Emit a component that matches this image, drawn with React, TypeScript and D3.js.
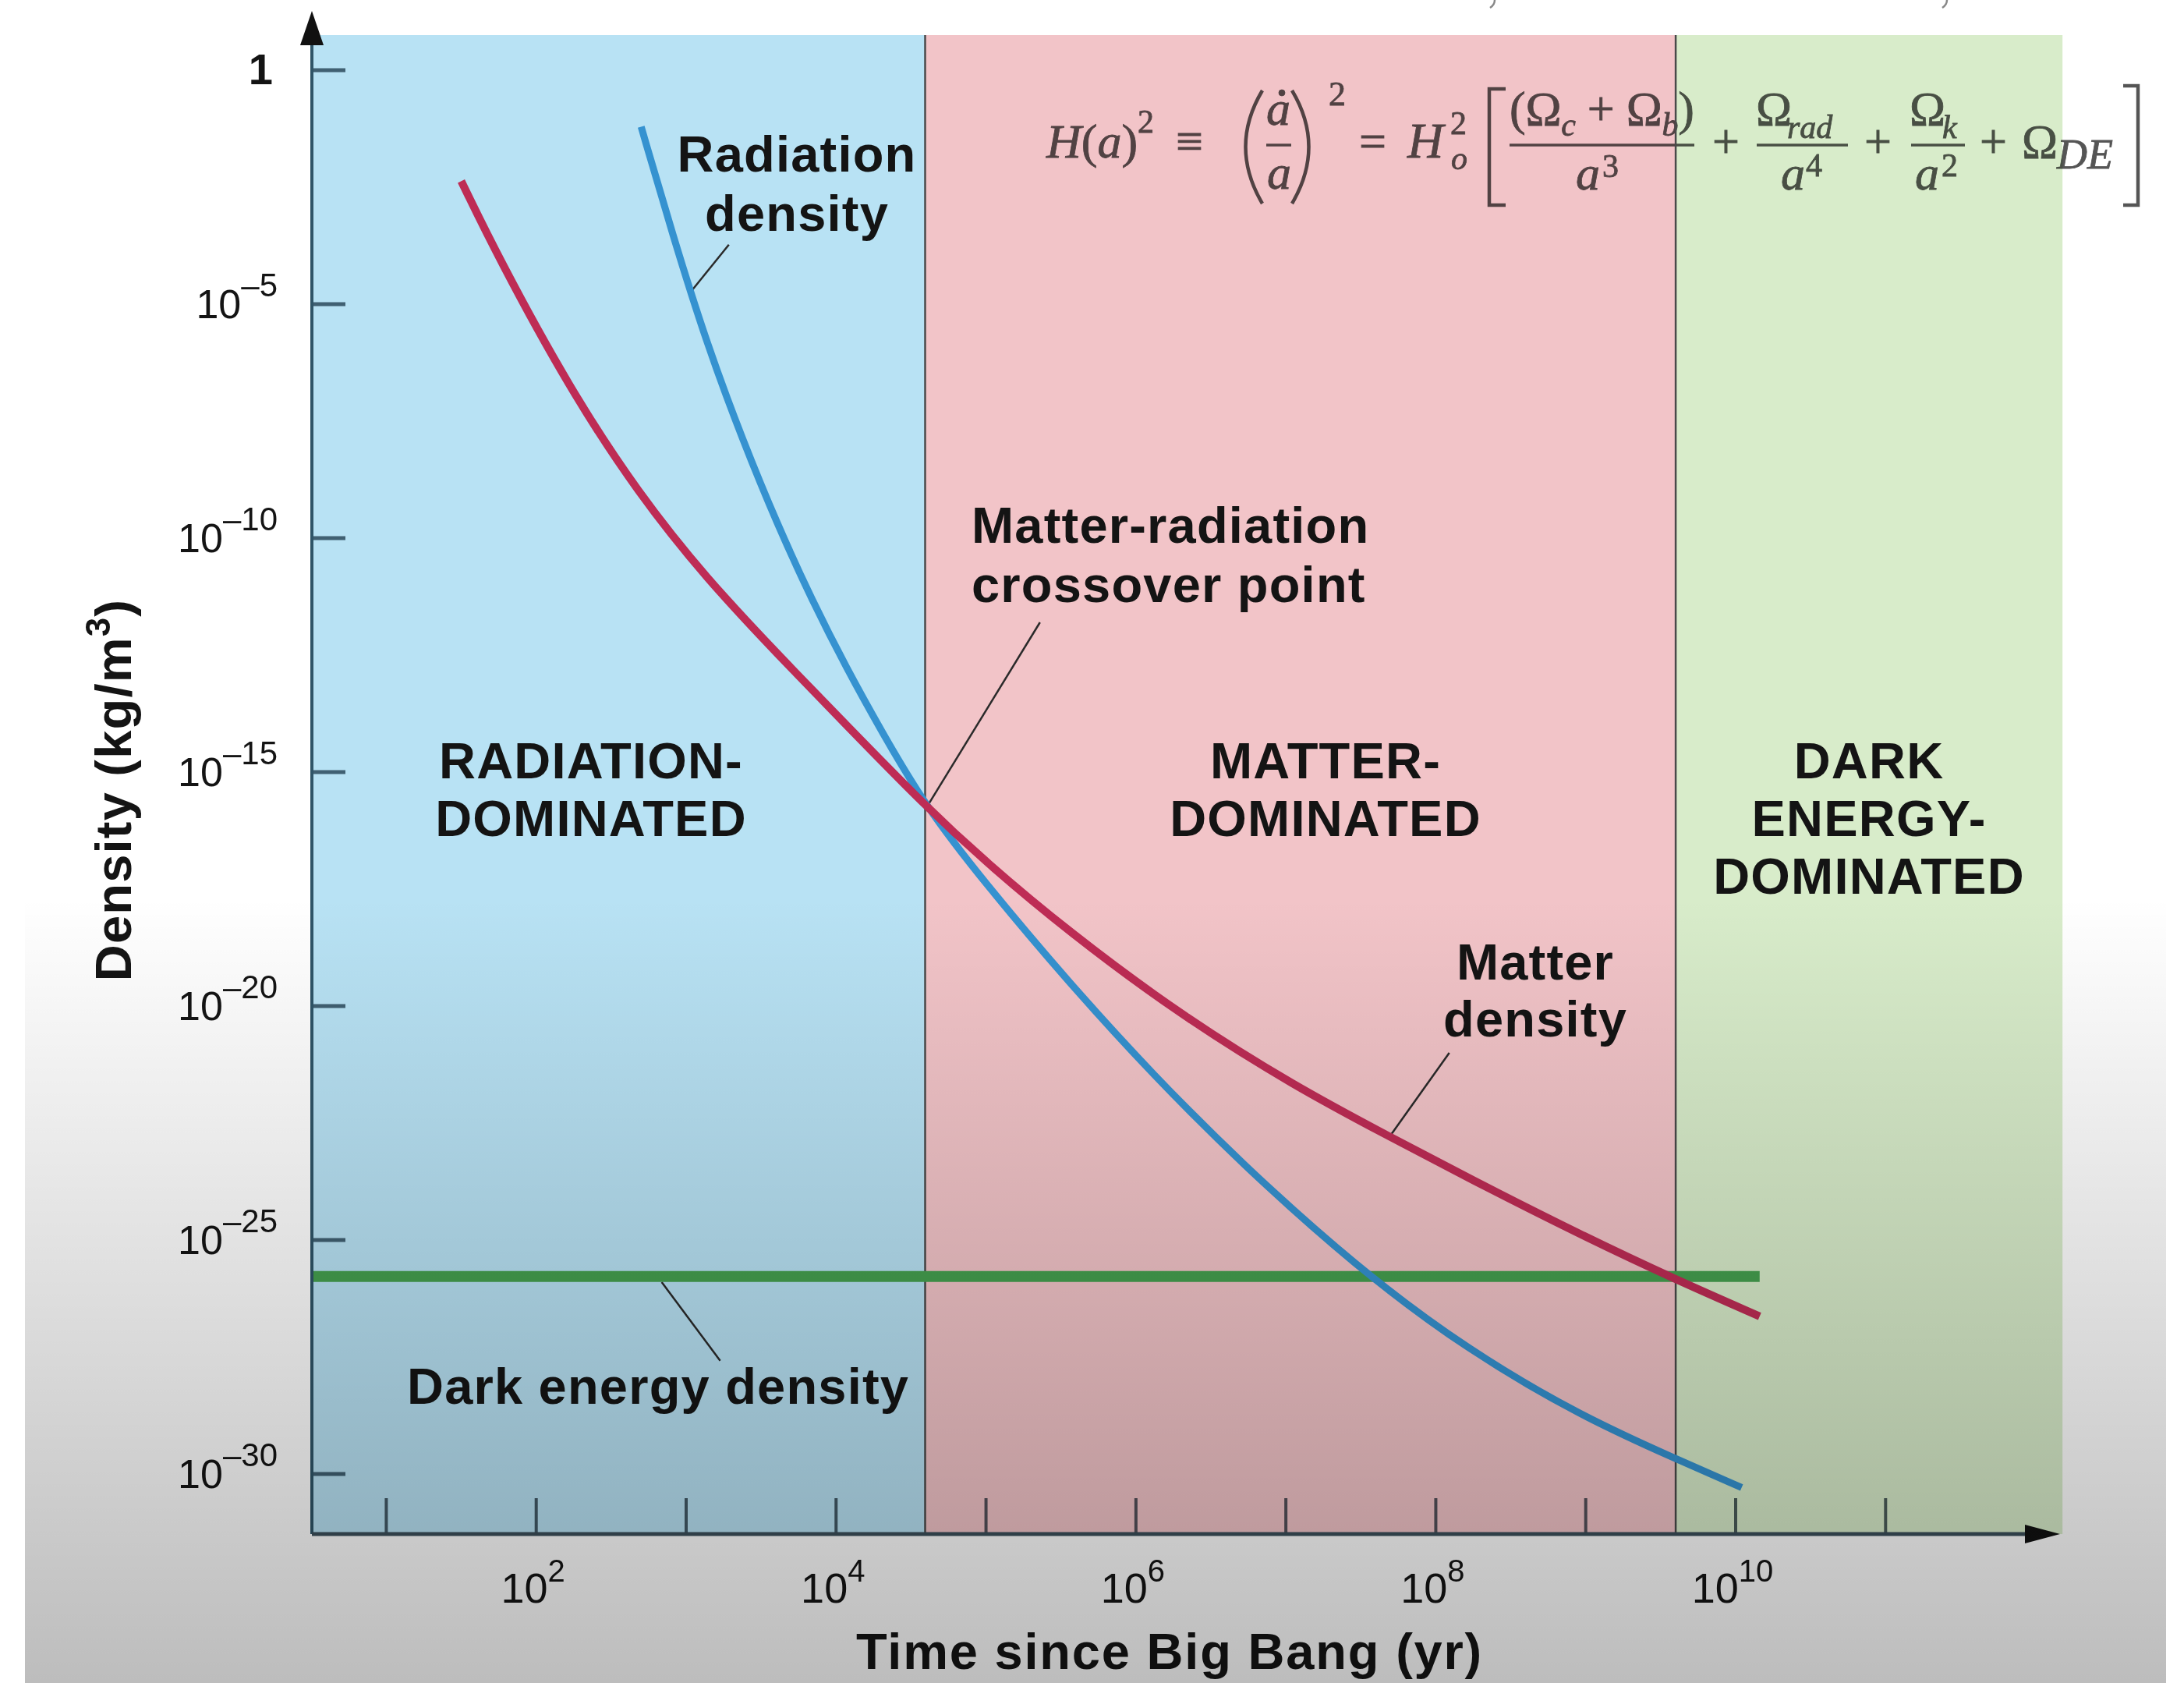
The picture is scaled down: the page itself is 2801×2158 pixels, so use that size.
import React from 'react';
import * as d3 from 'd3';

const W = 2801;
const H = 2158;

// values, as log10 of time (yr) and log10 of density (kg/m^3)
const matterLogT = [1.50, 1.75, 2.22, 2.68, 3.14, 3.61, 4.07, 4.594, 4.98, 5.55, 6.31, 7.07, 7.65, 8.22, 8.98, 9.59, 10.16];
const matterLogRho = [-2.37, -4.02, -6.79, -9.04, -10.88, -12.48, -14.0, -15.72, -16.87, -18.41, -20.22, -21.73, -22.72, -23.68, -24.91, -25.83, -26.63];
const radiationLogT = [2.70, 2.91, 3.14, 3.38, 3.61, 3.84, 4.07, 4.30, 4.594, 4.98, 5.55, 6.12, 6.70, 7.46, 8.22, 8.98, 9.59, 10.04];
const radiationLogRho = [-1.21, -3.52, -5.87, -7.93, -9.72, -11.33, -12.78, -14.11, -15.72, -17.32, -19.49, -21.49, -23.35, -25.55, -27.37, -28.78, -29.66, -30.29];
const darkEnergyLogT = [0.507, 10.16];
const darkEnergyLogRho = [-25.78, -25.78];

// era boundaries (log10 yr): axis start, matter-radiation equality, dark energy onset, axis end
const eraLogT = [0.507, 4.594, 9.6, 12.18];
const eraNames = [['RADIATION-', 'DOMINATED'], ['MATTER-', 'DOMINATED'], ['DARK', 'ENERGY-', 'DOMINATED']];

const xTickExps = [1, 2, 3, 4, 5, 6, 7, 8, 9, 10, 11];
const xLabelExps = [2, 4, 6, 8, 10];
const yTickExps = [0, -5, -10, -15, -20, -25, -30];

const eraFill = ['#b8e2f4', '#f2c4c8', '#d8ecca'];
const eraLabelX = [758, 1700, 2397];

const x = d3.scaleLog().domain([1e2, 1e10]).range([687.7, 2226]);
const y = d3.scaleLog().domain([1e-30, 1]).range([1890, 90]);
const px = (lt: number) => x(Math.pow(10, lt));
const py = (lr: number) => y(Math.pow(10, lr));

const zip = (a: number[], b: number[]) => a.map((v, i) => [v, b[i]] as [number, number]);

const curve = d3.line<[number, number]>()
  .x(d => px(d[0]))
  .y(d => py(d[1]))
  .curve(d3.curveBasis);

const axisBottom = 1967;
const plotTop = 45;

const sans = 'Liberation Sans, Arial, Helvetica, sans-serif';
const serif = 'Liberation Serif, DejaVu Serif, Times New Roman, serif';

function Formula() {
  const c = '#555555';
  return (
    <g fill={c} stroke={c} strokeWidth={0.8} fontFamily={serif} fontSize={62} style={{ mixBlendMode: 'multiply' }}>
      <text x={1342} y={202}>
        <tspan fontStyle="italic">H</tspan>(<tspan fontStyle="italic">a</tspan>)
        <tspan dy={-32} fontSize={42}>2</tspan>
      </text>
      <text x={1508} y={202}>≡</text>
      <path d="M1619,116 Q1576,188 1619,261" fill="none" strokeWidth={4.5} />
      <text x={1624} y={160} fontStyle="italic">a</text>
      <circle cx={1644} cy={119} r={4} />
      <line x1={1624} x2={1656} y1={186} y2={186} strokeWidth={3.5} />
      <text x={1625} y={242} fontStyle="italic">a</text>
      <path d="M1657,116 Q1700,188 1657,261" fill="none" strokeWidth={4.5} />
      <text x={1704} y={135} fontSize={44}>2</text>
      <text x={1743} y={202}>=</text>
      <text x={1805} y={202} fontSize={64} fontStyle="italic">H</text>
      <text x={1860} y={172} fontSize={42}>2</text>
      <text x={1861} y={217} fontSize={42} fontStyle="italic">o</text>
      <path d="M1931,114 H1910 V263 H1931" fill="none" strokeWidth={4.5} />
      <text x={1936} y={160} textLength={237} lengthAdjust="spacing">
        (Ω<tspan dy={14} fontSize={42} fontStyle="italic">c</tspan><tspan dy={-14}> + Ω</tspan><tspan dy={14} fontSize={42} fontStyle="italic">b</tspan><tspan dy={-14}>)</tspan>
      </text>
      <line x1={1936} x2={2173} y1={186} y2={186} strokeWidth={3.5} />
      <text x={2021} y={243} fontStyle="italic">a</text>
      <text x={2055} y={227} fontSize={42}>3</text>
      <text x={2196} y={202}>+</text>
      <text x={2252} y={160}>Ω</text>
      <text x={2292} y={177} fontSize={42} fontStyle="italic">rad</text>
      <line x1={2253} x2={2370} y1={186} y2={186} strokeWidth={3.5} />
      <text x={2284} y={243} fontStyle="italic">a</text>
      <text x={2316} y={226} fontSize={42}>4</text>
      <text x={2391} y={202}>+</text>
      <text x={2449} y={160}>Ω</text>
      <text x={2491} y={177} fontSize={42} fontStyle="italic">k</text>
      <line x1={2451} x2={2520} y1={186} y2={186} strokeWidth={3.5} />
      <text x={2456} y={243} fontStyle="italic">a</text>
      <text x={2490} y={226} fontSize={42}>2</text>
      <text x={2539} y={202}>+</text>
      <text x={2593} y={202}>Ω</text>
      <text x={2638} y={216} fontSize={54} fontStyle="italic">DE</text>
      <path d="M2723,110 H2742 V263 H2723" fill="none" strokeWidth={4.5} />
    </g>
  );
}

function Leader({ from, to }: { from: [number, number]; to: [number, number] }) {
  return (
    <line x1={px(from[0])} y1={py(from[1])} x2={px(to[0])} y2={py(to[1])}
      stroke="#2a2a2a" strokeWidth={2.5} />
  );
}

export default function App() {
  const labelStyle = { fontFamily: sans, fontWeight: 700, fontSize: 65, letterSpacing: 1.2, fill: '#141414' } as const;
  return (
    <svg width={W} height={H} viewBox={`0 0 ${W} ${H}`}
      style={{ position: 'absolute', left: 0, top: 0, background: '#ffffff' }}>
      <defs>
        <linearGradient id="shade" x1="0" y1="0" x2="0" y2="1">
          <stop offset="0" stopColor="#000" stopOpacity={0} />
          <stop offset="1" stopColor="#000" stopOpacity={0.26} />
        </linearGradient>
      </defs>

      <rect x={0} y={0} width={W} height={H} fill="#ffffff" />

      {/* era backgrounds */}
      {eraFill.map((f, i) => (
        <rect key={i} x={px(eraLogT[i])} y={plotTop}
          width={px(eraLogT[i + 1]) - px(eraLogT[i])} height={axisBottom - plotTop} fill={f} />
      ))}

      <Formula />

      {/* era dividers */}
      {[eraLogT[1], eraLogT[2]].map((lt, i) => (
        <line key={i} x1={px(lt)} x2={px(lt)} y1={plotTop} y2={axisBottom} stroke="#4a4a4a" strokeWidth={2.5} />
      ))}

      {/* era names */}
      {eraNames.map((lines, i) => (
        <text key={i} x={eraLabelX[i]} y={998} textAnchor="middle" style={labelStyle}>
          {lines.map((s, j) => (
            <tspan key={j} x={eraLabelX[i]} dy={j === 0 ? 0 : 74}>{s}</tspan>
          ))}
        </text>
      ))}

      {/* curve labels */}
      <text x={1022} y={220} textAnchor="middle" style={labelStyle}>
        <tspan x={1022}>Radiation</tspan>
        <tspan x={1022} dy={76}>density</tspan>
      </text>
      <text x={1246} y={696} style={labelStyle}>
        <tspan x={1246}>Matter-radiation</tspan>
        <tspan x={1246} dy={76}>crossover point</tspan>
      </text>
      <text x={1969} y={1256} textAnchor="middle" style={labelStyle}>
        <tspan x={1969}>Matter</tspan>
        <tspan x={1969} dy={73}>density</tspan>
      </text>
      <text x={522} y={1800} style={labelStyle}>Dark energy density</text>

      <Leader from={[3.285, -3.73]} to={[3.04, -4.7]} />
      <Leader from={[5.36, -11.8]} to={[4.616, -15.69]} />
      <Leader from={[8.09, -21.0]} to={[7.69, -22.8]} />
      <Leader from={[2.837, -25.9]} to={[3.227, -27.58]} />

      {/* density curves */}
      <path d={curve(zip(darkEnergyLogT, darkEnergyLogRho)) || ''} fill="none" stroke="#45a04f" strokeWidth={14} />
      <path d={curve(zip(radiationLogT, radiationLogRho)) || ''} fill="none" stroke="#3592d0" strokeWidth={9} />
      <path d={curve(zip(matterLogT, matterLogRho)) || ''} fill="none" stroke="#be2c55" strokeWidth={10} />

      {/* axes */}
      {xTickExps.map(e => (
        <line key={e} x1={px(e)} x2={px(e)} y1={axisBottom} y2={axisBottom - 46}
          stroke="#10202a" strokeOpacity={0.7} strokeWidth={4} />
      ))}
      {yTickExps.map(e => (
        <line key={e} x1={400} x2={443} y1={py(e)} y2={py(e)}
          stroke="#0d2a3a" strokeOpacity={0.7} strokeWidth={5} />
      ))}
      <line x1={400} x2={400} y1={axisBottom} y2={50} stroke="#2f5568" strokeWidth={4} />
      <path d="M400,14 L385,58 L415,58 Z" fill="#111" />
      <line x1={400} x2={2600} y1={axisBottom} y2={axisBottom} stroke="#3b4f5a" strokeWidth={5} />
      <path d="M2642,1967 L2597,1955 L2597,1979 Z" fill="#111" />

      {/* tick labels */}
      {xLabelExps.map(e => (
        <text key={e} x={px(e) - 4} y={2055} textAnchor="middle"
          fontFamily={sans} fontSize={54} fill="#141414">
          10<tspan dy={-27} fontSize={40}>{e}</tspan>
        </text>
      ))}
      {yTickExps.map(e => (
        <text key={e} x={e === 0 ? 350 : 356} y={py(e) + 18} textAnchor="end"
          fontFamily={sans} fontSize={e === 0 ? 56 : 52} fontWeight={e === 0 ? 700 : 400} fill="#141414">
          {e === 0 ? '1' : <>10<tspan dy={-28} fontSize={42}>{'\u2013' + Math.abs(e)}</tspan></>}
        </text>
      ))}

      {/* axis titles */}
      <text x={1500} y={2140} textAnchor="middle" style={{ ...labelStyle, letterSpacing: 1.8 }}>
        Time since Big Bang (yr)
      </text>
      <text transform="translate(168,1013) rotate(-90)" textAnchor="middle" style={labelStyle}>
        Density (kg/m<tspan dy={-27} fontSize={44}>3</tspan><tspan dy={27}>)</tspan>
      </text>

      {/* clipped fragments of text above the frame */}
      <path d="M1917,0 Q1917,6 1911,10" fill="none" stroke="#888" strokeWidth={2.5} />
      <path d="M2497,0 Q2497,6 2491,10" fill="none" stroke="#888" strokeWidth={2.5} />

      {/* darkening toward the bottom of the frame */}
      <rect x={32} y={1150} width={2746} height={H - 1150} fill="url(#shade)" />
    </svg>
  );
}
